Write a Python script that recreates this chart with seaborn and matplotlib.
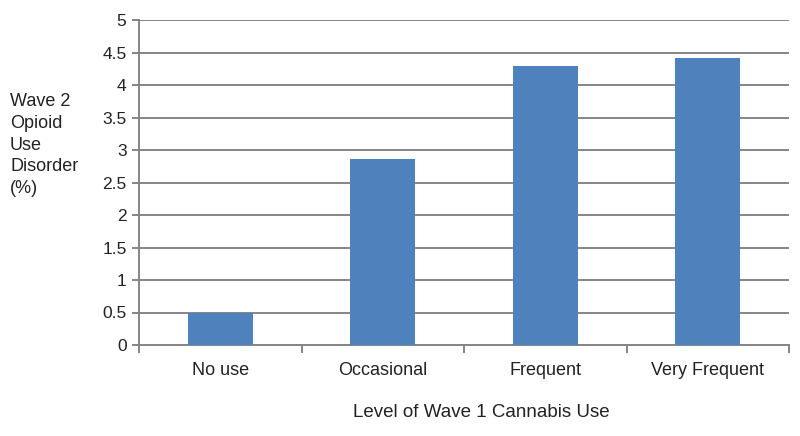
import matplotlib
matplotlib.use("Agg")
import matplotlib.pyplot as plt
import seaborn as sns
import pandas as pd
import numpy as np

categories = ["No use", "Occasional", "Frequent", "Very Frequent"]
values = [0.49, 2.86, 4.30, 4.42]
y_ticks = [0, 0.5, 1, 1.5, 2, 2.5, 3, 3.5, 4, 4.5, 5]
y_tick_labels = ["0", "0.5", "1", "1.5", "2", "2.5", "3", "3.5", "4", "4.5", "5"]

sns.set_theme(style="white")
plt.rcParams['font.family'] = ['Liberation Sans', 'DejaVu Sans']

df = pd.DataFrame({"cat": categories, "val": values})

fig = plt.figure(figsize=(8, 4.36), dpi=100)
ax = fig.add_axes([139/800, 1 - 345/436, (789-139)/800, (345-20)/436])

sns.barplot(data=df, x="cat", y="val", color="#4F81BD", saturation=1,
            width=0.4, ax=ax, zorder=3, linewidth=0, edgecolor="none")

ax.set_ylim(0, 5)
ax.set_xlim(-0.5, 3.5)
ax.set_yticks(y_ticks)
ax.set_yticklabels(y_tick_labels)
ax.yaxis.grid(True, color="#858585", linewidth=1.4, zorder=0)
ax.set_axisbelow(True)

for s in ["top", "right"]:
    ax.spines[s].set_visible(False)
for s in ["left", "bottom"]:
    ax.spines[s].set_color("#858585")
    ax.spines[s].set_linewidth(1.4)

ax.set_xticks(np.arange(len(categories)))
ax.set_xticklabels(categories)
ax.set_xticks(np.arange(-0.5, len(categories) + 0.5, 1), minor=True)
ax.tick_params(axis="x", which="major", length=0, pad=12, labelsize=13, labelcolor="#222222")
ax.tick_params(axis="x", which="minor", length=6, width=1.4, color="#858585", direction="out", bottom=True)
ax.tick_params(axis="y", length=5, width=1.4, color="#858585", direction="out", left=True,
               labelsize=12.5, labelcolor="#222222", pad=4)

ax.set_xlabel("")
ax.set_ylabel("")
fig.text(481/800, 1 - 412/436, "Level of Wave 1 Cannabis Use", fontsize=13.5,
         color="#222222", ha="center", va="center")
fig.text(10/800, 1 - 145/436, "Wave 2\nOpioid\nUse\nDisorder\n(%)", fontsize=13,
         color="#222222", ha="left", va="center", linespacing=1.35)

fig.savefig("out.png", dpi=100)
